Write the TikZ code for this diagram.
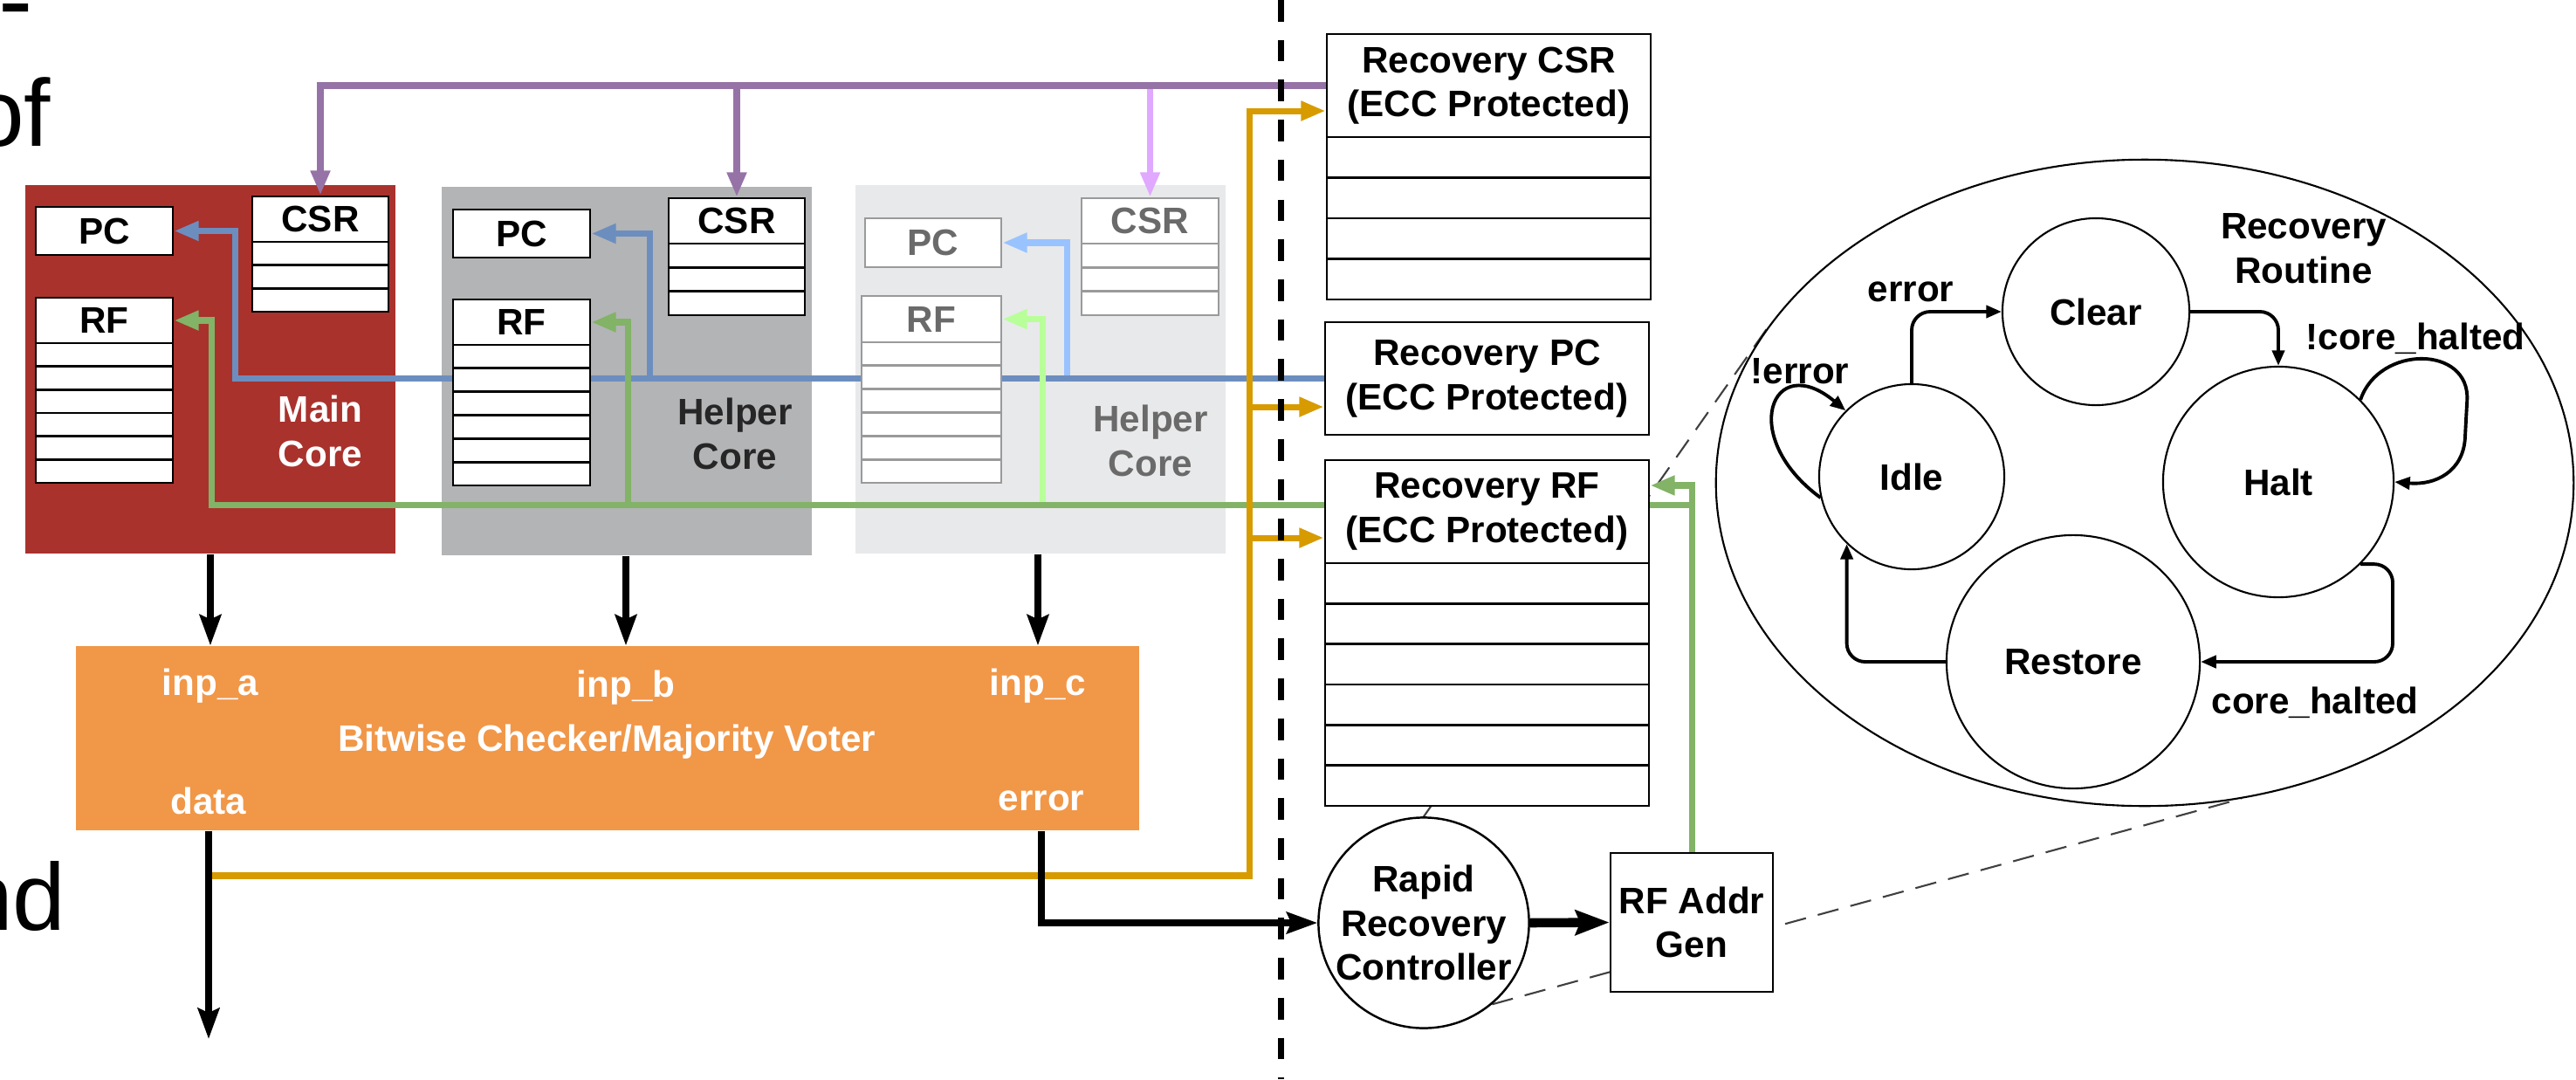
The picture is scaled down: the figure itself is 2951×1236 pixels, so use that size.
\documentclass[tikz,border=0pt]{standalone}
\usepackage{fontspec}
\setmainfont{Liberation Sans}
\usetikzlibrary{arrows.meta,fit,shapes.geometric,calc}

\definecolor{maincore}{HTML}{A9322D}
\definecolor{helpercore}{HTML}{B3B4B5}
\definecolor{sparecore}{HTML}{E8E9EA}
\definecolor{votefill}{HTML}{F19748}
\definecolor{dataline}{HTML}{D79B00}
\definecolor{csrline}{HTML}{9673A6}
\definecolor{csrlight}{HTML}{E0A8FF}
\definecolor{pcline}{HTML}{6C8EBF}
\definecolor{pclight}{HTML}{99C3FF}
\definecolor{rfline}{HTML}{82B366}
\definecolor{rflight}{HTML}{B8FF99}
\definecolor{dimtext}{HTML}{6A6A6A}
\definecolor{dimline}{HTML}{9A9A9A}

\pgfdeclarelayer{back}
\pgfdeclarelayer{mid}
\pgfsetlayers{back,mid,main}

\tikzset{
  lbl/.style={font=\fontsize{12}{14.4}\selectfont\bfseries, align=center, inner sep=0pt},
  slide/.style={font=\fontsize{31}{37}\selectfont, inner sep=0pt},
  regbox/.style={lbl, draw=black, line width=0.8pt, fill=white, inner sep=0pt},
  dimreg/.style={draw=dimline, text=dimtext},
  corebg/.style={inner sep=0pt, draw=none},
  state/.style={lbl, draw, circle, line width=0.6pt, inner sep=0pt},
  bus/.style={line width=2pt},
  tipc/.style={-{Triangle[length=8pt,width=6pt]}},
  blackbus/.style={line width=2pt, black, -{Stealth[length=10pt,width=7pt,inset=1.5pt]}},
  fsmedge/.style={line width=1.1pt, rounded corners=6pt, -{Triangle[length=5pt,width=4pt]}},
  zoomline/.style={line width=0.6pt, black!75, dash pattern=on 7pt off 4pt},
  divider/.style={line width=2pt, dash pattern=on 7pt off 6pt},
}

% framed box given by its corners: name, extra style, left, top, right, bottom, text
\newcommand{\boxnode}[7]{%
  \node[regbox,#2,minimum width={(#5-#3)*0.01cm},minimum height={(#6-#4)*0.01cm}]
    (#1) at ({(#3+#5)/2},{(#4+#6)/2}) {#7};%
}

% register stack: name, extra style, left, top, right, header bottom, bottom, rows, title
\newcommand{\regstack}[9]{%
  \boxnode{#1}{#2}{#3}{#4}{#5}{#7}{}%
  \boxnode{#1-h}{#2}{#3}{#4}{#5}{#6}{#9}%
  \pgfmathtruncatemacro{\rowsminusone}{#8-1}%
  \foreach \k in {1,...,\rowsminusone}{%
    \draw[line width=0.8pt,#2] (#3,{#6+(#7-#6)*\k/#8}) -- (#5,{#6+(#7-#6)*\k/#8});
  }%
}

\begin{document}
\begin{tikzpicture}[x=0.01cm, y=-0.01cm]
\useasboundingbox (0,0) rectangle (2951,1236);

% fragments of the surrounding slide text
\node[slide, anchor=base west] (fragdash) at (-2,40) {\fontsize{33.6}{40}\selectfont -};
\node[slide, anchor=base east] (fragof) at (59,167) {of};
\node[slide, anchor=base east] (fragnd) at (76,1065) {nd};

% core backgrounds
\begin{pgfonlayer}{back}
  \node[corebg, fill=maincore, fit={(29,212) (453,634)}] (coreA) {};
  \node[corebg, fill=helpercore, fit={(506,214) (930,636)}] (coreB) {};
  \node[corebg, fill=sparecore, fit={(980,212) (1404,634)}] (coreC) {};
\end{pgfonlayer}

% main core
\boxnode{pcA}{}{41}{237}{198}{292}{PC}
\regstack{csrA}{}{289}{225}{445}{277}{357}{3}{CSR}
\regstack{rfA}{}{41}{341}{198}{393}{553}{6}{RF}
\node[lbl, text=white] (labA) at (367,494) {Main\\Core};

% helper core
\boxnode{pcB}{}{519}{240}{676}{295}{PC}
\regstack{csrB}{}{766}{227}{922}{279}{361}{3}{CSR}
\regstack{rfB}{}{519}{343}{676}{395}{556}{6}{RF}
\node[lbl, text=black!85] (labB) at (842,497) {Helper\\Core};

% optional second helper core
\boxnode{pcC}{dimreg}{991}{250}{1147}{306}{PC}
\regstack{csrC}{dimreg}{1239}{227}{1396}{279}{361}{3}{CSR}
\regstack{rfC}{dimreg}{987}{339}{1147}{392}{553}{6}{RF}
\node[lbl, text=dimtext] (labC) at (1318,505) {Helper\\Core};

% recovery storage
\regstack{reccsr}{}{1520}{39}{1891}{157}{343}{4}{Recovery CSR\\(ECC Protected)}
\boxnode{recpc}{}{1518}{369}{1889}{498}{Recovery PC\\(ECC Protected)}
\regstack{recrf}{}{1518}{527}{1889}{645}{923}{6}{Recovery RF\\(ECC Protected)}

% checker / voter
\node[fill=votefill, inner sep=0pt, fit={(87,740) (1305,951)}] (voter) {};
\node[lbl, text=white] (vtitle) at (695,850) {Bitwise Checker/Majority Voter};
\node[lbl, text=white] (inpa) at (241,786) {inp\_a};
\node[lbl, text=white] (inpb) at (717,788) {inp\_b};
\node[lbl, text=white] (inpc) at (1189,786) {inp\_c};
\node[lbl, text=white] (datal) at (239,917) {data};
\node[lbl, text=white] (errl) at (1193,917) {error};

% controller and address generator
\node[lbl, draw, circle, line width=0.7pt, fill=white, minimum size=2.38cm] (rrc) at (1631,1057) {Rapid\\Recovery\\Controller};
\boxnode{rfgen}{}{1845}{977}{2031}{1136}{RF Addr\\Gen}

% recovery routine state machine
\node[draw, ellipse, line width=0.6pt, minimum width=9.82cm, minimum height=7.4cm, inner sep=0pt] (routine) at (2457,553) {};
\node[state, minimum size=2.14cm] (clear) at (2401,357) {Clear};
\node[state, minimum size=2.12cm] (idle) at (2190,546) {Idle};
\node[state, minimum size=2.64cm] (halt) at (2610,552) {Halt};
\node[state, minimum size=2.9cm] (restore) at (2375,758) {Restore};
\node[lbl] (rtitle) at (2639,285) {Recovery\\Routine};
\node[lbl] (terr) at (2189,334) {error};
\node[lbl] (tnerr) at (2062,425) {!error};
\node[lbl] (tnhalt) at (2767,388) {!core\_halted};
\node[lbl] (thalt) at (2652,805) {core\_halted};

\draw[fsmedge] (idle.north) |- (clear.west);
\draw[fsmedge] (clear.east) -| (halt.north);
\draw[fsmedge] (halt.-45) -| (2741,700) |- (restore.east);
\draw[fsmedge] (restore.west) -| (idle.-134);
\draw[fsmedge] (halt.45) .. controls (2725,395) and (2830,395) .. (2825,480)
                        .. controls (2822,540) and (2790,556) .. (halt.east);
\draw[fsmedge] (idle.193) .. controls (1990,500) and (2030,400) .. (idle.135);

% magnification lines from the controller to the routine
\begin{pgfonlayer}{back}
  \draw[zoomline] (rrc.north) -- (routine.157);
  \draw[zoomline] (rrc.-50) -- (routine.-73);
\end{pgfonlayer}

% state buses back to the cores
\path (rfgen.north) ++(0,-397) coordinate (gj);
\begin{pgfonlayer}{mid}
  \draw[bus, csrlight, tipc] (csrC.north |- reccsr-h.west) -- (csrC.north);
  \draw[bus, csrline, tipc] (reccsr-h.west) -| (csrA.north);
  \draw[bus, csrline, tipc] (csrB.north |- reccsr-h.west) -- (csrB.north);

  \draw[bus, pclight, tipc] ([xshift=0.74cm]pcC.east |- recpc.west) -- ([xshift=0.74cm]pcC.east) -- (pcC.east);
  \draw[bus, pcline, tipc] (recpc.west) -| ([xshift=0.7cm]pcA.east) -- (pcA.east);
  \draw[bus, pcline, tipc] ([xshift=0.67cm]pcB.east |- recpc.west) -- ([xshift=0.67cm]pcB.east) -- (pcB.east);

  \draw[bus, rflight, tipc] ([xshift=0.46cm]rfC-h.east |- gj) -- ([xshift=0.46cm]rfC-h.east) -- (rfC-h.east);
  \draw[bus, rfline, tipc] (gj) -| ([xshift=0.43cm]rfA-h.east) -- (rfA-h.east);
  \draw[bus, rfline, tipc] ([xshift=0.42cm]rfB-h.east |- gj) -- ([xshift=0.42cm]rfB-h.east) -- (rfB-h.east);
  \draw[bus, rfline, tipc] (rfgen.north) |- ([yshift=0.3cm]recrf-h.east);
\end{pgfonlayer}

% checkpoint data into the recovery storage
\coordinate (obus) at (1431,1003);
\coordinate (ocsr) at ([yshift=-0.29cm]reccsr-h.west);
\coordinate (opc) at ([yshift=-0.325cm]recpc.west);
\coordinate (orf) at ([yshift=-0.3cm]recrf-h.west);
\draw[bus, dataline, tipc] (datal |- voter.south) |- (obus) |- (ocsr);
\draw[bus, dataline, tipc] (obus |- opc) -- (opc);
\draw[bus, dataline, tipc] (obus |- orf) -- (orf);

% core outputs, checker outputs
\coordinate (dataend) at (239,1190);
\draw[blackbus] (inpa |- coreA.south) -- (inpa |- voter.north);
\draw[blackbus] (inpb |- coreB.south) -- (inpb |- voter.north);
\draw[blackbus] (inpc |- coreC.south) -- (inpc |- voter.north);
\draw[blackbus] (datal |- voter.south) -- (dataend);
\draw[blackbus] (errl |- voter.south) |- (rrc.west);
\draw[line width=3pt, -{Stealth[length=11pt,width=8pt,inset=1.5pt]}] (rrc.east) -- (rfgen.west);

% boundary of the protected domain
\coordinate (divtop) at (1467,0);
\coordinate (divbot) at (1467,1236);
\draw[divider] (divtop) -- (divbot);
\end{tikzpicture}
\end{document}
